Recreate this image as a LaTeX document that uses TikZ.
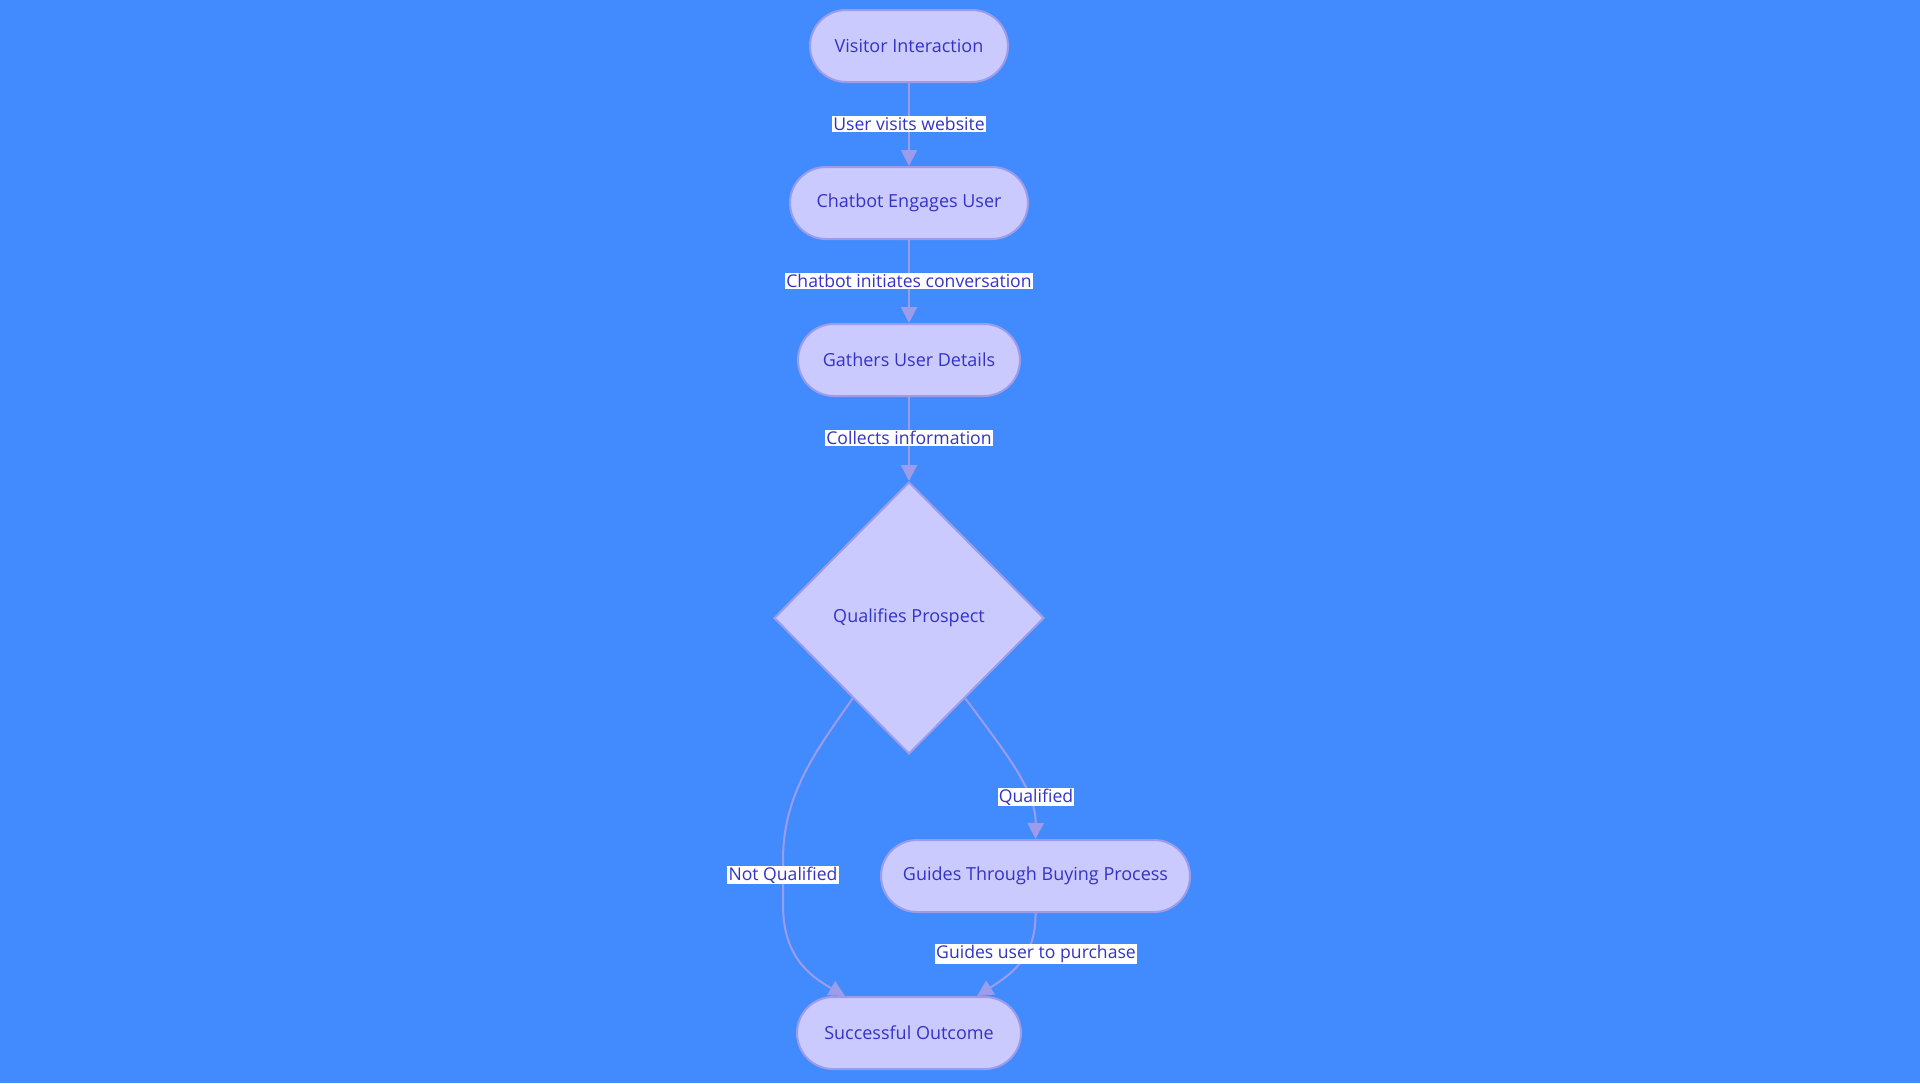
\documentclass[tikz,border=0pt]{standalone}
\usepackage{fontspec}
\setmainfont{Open Sans}
\usetikzlibrary{shapes.geometric,arrows.meta,calc}
\definecolor{bg}{HTML}{418BFF}
\definecolor{nfill}{HTML}{CACAFF}
\definecolor{nline}{HTML}{9C9CEA}
\definecolor{ntext}{HTML}{3333C8}
\begin{document}
\begin{tikzpicture}[x=0.5pt,y=-0.5pt,
  pill/.style={draw=nline,fill=nfill,line width=1pt,rounded corners=18pt,minimum height=36pt,text=ntext,font=\fontsize{9}{11}\selectfont,inner sep=0pt},
  dia/.style={diamond,draw=nline,fill=nfill,line width=1pt,minimum width=135pt,minimum height=136pt,inner sep=0pt,text=ntext,font=\fontsize{9}{11}\selectfont},
  elabel/.style={fill=white,text=ntext,inner sep=0.6pt,font=\fontsize{8.8}{11}\selectfont},
  conn/.style={draw=nline,line width=1pt,-{Triangle[length=8pt,width=8pt]}}]
\useasboundingbox[fill=bg] (0,0) rectangle (1920,1083);
\node[pill,minimum width=99pt] (vi) at (909,46) {Visitor Interaction};
\node[pill,minimum width=119pt] (ce) at (909,203) {Chatbot Engages User};
\node[pill,minimum width=111pt] (gu) at (909,360) {Gathers User Details};
\node[dia] (q) at (909,618) {Qualifies Prospect};
\node[pill,minimum width=154.5pt] (gb) at (1035.5,876) {Guides Through Buying Process};
\node[pill,minimum width=112pt] (so) at (909,1033) {Successful Outcome};
\coordinate (soL) at ($(so.north)+(-64,0)$);
\coordinate (soR) at ($(so.north)+(68,0)$);
\draw[conn] (vi) -- (ce);
\draw[conn] (ce) -- (gu);
\draw[conn] (gu) -- (q);
\draw[conn] (q.305) .. controls (1005,752) and (1036,790) .. (gb.north);
\draw[conn] (q.235) .. controls (815,752) and (783,795) .. (783,860) -- (783,905) .. controls (783,955) and (808,975) .. (soL);
\draw[conn] (gb.south) .. controls (1036,955) and (1015,972) .. (soR);
\node[elabel] (l1) at (909,124) {User visits website};
\node[elabel] (l2) at (909,281) {Chatbot initiates conversation};
\node[elabel] (l3) at (909,438) {Collects information};
\node[elabel] (l4) at (1036,797) {Qualified};
\node[elabel] (l5) at (783,875) {Not Qualified};
\node[elabel] (l6) at (1036,954) {Guides user to purchase};
\end{tikzpicture}
\end{document}
